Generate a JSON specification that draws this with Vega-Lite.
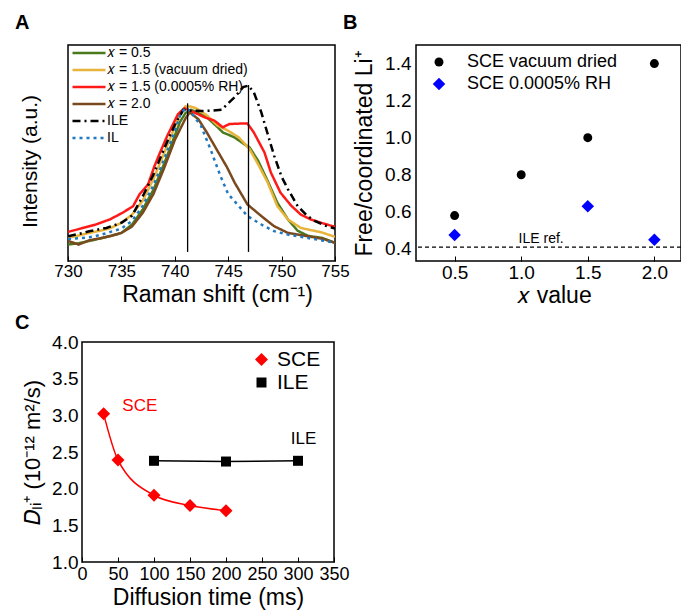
{
  "$schema": "https://vega.github.io/schema/vega-lite/v6.json",
  "padding": {"left": 14, "top": 12, "right": 0, "bottom": 0},
  "background": "white",
  "config": {
    "font": "Liberation Sans",
    "view": {"stroke": "black", "strokeWidth": 1.5},
    "axis": {"labelColor": "black", "titleColor": "black", "titleFontWeight": "normal", "labelFont": "Liberation Sans", "titleFont": "Liberation Sans", "grid": false, "domain": false, "tickColor": "black", "labelFlush": false, "labelOverlap": false},
    "legend": {"labelColor": "black", "labelFont": "Liberation Sans", "title": null, "padding": 0},
    "title": {"font": "Liberation Sans", "fontWeight": "bold", "fontSize": 20, "anchor": "start", "frame": "group", "color": "black"}
  },
  "datasets": {
    "raman": [
      {"s": "𝑥 = 0.5", "v": 730, "i": 0.076}, {"s": "𝑥 = 0.5", "v": 731, "i": 0.082}, {"s": "𝑥 = 0.5", "v": 732, "i": 0.093}, {"s": "𝑥 = 0.5", "v": 733, "i": 0.104}, {"s": "𝑥 = 0.5", "v": 734, "i": 0.116}, {"s": "𝑥 = 0.5", "v": 735, "i": 0.13}, {"s": "𝑥 = 0.5", "v": 736, "i": 0.169}, {"s": "𝑥 = 0.5", "v": 737, "i": 0.239}, {"s": "𝑥 = 0.5", "v": 738, "i": 0.33}, {"s": "𝑥 = 0.5", "v": 739, "i": 0.45}, {"s": "𝑥 = 0.5", "v": 740, "i": 0.58}, {"s": "𝑥 = 0.5", "v": 740.5, "i": 0.645}, {"s": "𝑥 = 0.5", "v": 741, "i": 0.685}, {"s": "𝑥 = 0.5", "v": 741.5, "i": 0.7}, {"s": "𝑥 = 0.5", "v": 742, "i": 0.69}, {"s": "𝑥 = 0.5", "v": 743, "i": 0.665}, {"s": "𝑥 = 0.5", "v": 744, "i": 0.62}, {"s": "𝑥 = 0.5", "v": 744.5, "i": 0.595}, {"s": "𝑥 = 0.5", "v": 745, "i": 0.585}, {"s": "𝑥 = 0.5", "v": 745.6, "i": 0.572}, {"s": "𝑥 = 0.5", "v": 746.5, "i": 0.541}, {"s": "𝑥 = 0.5", "v": 747, "i": 0.526}, {"s": "𝑥 = 0.5", "v": 747.8, "i": 0.464}, {"s": "𝑥 = 0.5", "v": 748.7, "i": 0.37}, {"s": "𝑥 = 0.5", "v": 749.6, "i": 0.27}, {"s": "𝑥 = 0.5", "v": 750.6, "i": 0.192}, {"s": "𝑥 = 0.5", "v": 751.5, "i": 0.14}, {"s": "𝑥 = 0.5", "v": 752.5, "i": 0.116}, {"s": "𝑥 = 0.5", "v": 753.8, "i": 0.107}, {"s": "𝑥 = 0.5", "v": 755, "i": 0.084},
      {"s": "𝑥 = 1.5 (vacuum dried)", "v": 730, "i": 0.107}, {"s": "𝑥 = 1.5 (vacuum dried)", "v": 731, "i": 0.118}, {"s": "𝑥 = 1.5 (vacuum dried)", "v": 732, "i": 0.13}, {"s": "𝑥 = 1.5 (vacuum dried)", "v": 733, "i": 0.14}, {"s": "𝑥 = 1.5 (vacuum dried)", "v": 734, "i": 0.153}, {"s": "𝑥 = 1.5 (vacuum dried)", "v": 735, "i": 0.177}, {"s": "𝑥 = 1.5 (vacuum dried)", "v": 736, "i": 0.215}, {"s": "𝑥 = 1.5 (vacuum dried)", "v": 737, "i": 0.28}, {"s": "𝑥 = 1.5 (vacuum dried)", "v": 738, "i": 0.38}, {"s": "𝑥 = 1.5 (vacuum dried)", "v": 739, "i": 0.5}, {"s": "𝑥 = 1.5 (vacuum dried)", "v": 740, "i": 0.62}, {"s": "𝑥 = 1.5 (vacuum dried)", "v": 740.5, "i": 0.685}, {"s": "𝑥 = 1.5 (vacuum dried)", "v": 741, "i": 0.716}, {"s": "𝑥 = 1.5 (vacuum dried)", "v": 741.5, "i": 0.715}, {"s": "𝑥 = 1.5 (vacuum dried)", "v": 742, "i": 0.707}, {"s": "𝑥 = 1.5 (vacuum dried)", "v": 743, "i": 0.674}, {"s": "𝑥 = 1.5 (vacuum dried)", "v": 744, "i": 0.628}, {"s": "𝑥 = 1.5 (vacuum dried)", "v": 745, "i": 0.603}, {"s": "𝑥 = 1.5 (vacuum dried)", "v": 746, "i": 0.572}, {"s": "𝑥 = 1.5 (vacuum dried)", "v": 747, "i": 0.518}, {"s": "𝑥 = 1.5 (vacuum dried)", "v": 747.8, "i": 0.448}, {"s": "𝑥 = 1.5 (vacuum dried)", "v": 748.7, "i": 0.363}, {"s": "𝑥 = 1.5 (vacuum dried)", "v": 749.6, "i": 0.254}, {"s": "𝑥 = 1.5 (vacuum dried)", "v": 750.6, "i": 0.192}, {"s": "𝑥 = 1.5 (vacuum dried)", "v": 751.8, "i": 0.153}, {"s": "𝑥 = 1.5 (vacuum dried)", "v": 753.7, "i": 0.133}, {"s": "𝑥 = 1.5 (vacuum dried)", "v": 755, "i": 0.112},
      {"s": "𝑥 = 1.5 (0.0005% RH)", "v": 730, "i": 0.135}, {"s": "𝑥 = 1.5 (0.0005% RH)", "v": 731.1, "i": 0.149}, {"s": "𝑥 = 1.5 (0.0005% RH)", "v": 732.6, "i": 0.169}, {"s": "𝑥 = 1.5 (0.0005% RH)", "v": 733.9, "i": 0.192}, {"s": "𝑥 = 1.5 (0.0005% RH)", "v": 735.1, "i": 0.223}, {"s": "𝑥 = 1.5 (0.0005% RH)", "v": 736.1, "i": 0.254}, {"s": "𝑥 = 1.5 (0.0005% RH)", "v": 736.7, "i": 0.309}, {"s": "𝑥 = 1.5 (0.0005% RH)", "v": 737.5, "i": 0.355}, {"s": "𝑥 = 1.5 (0.0005% RH)", "v": 738.1, "i": 0.44}, {"s": "𝑥 = 1.5 (0.0005% RH)", "v": 738.6, "i": 0.5}, {"s": "𝑥 = 1.5 (0.0005% RH)", "v": 739.3, "i": 0.58}, {"s": "𝑥 = 1.5 (0.0005% RH)", "v": 740.3, "i": 0.68}, {"s": "𝑥 = 1.5 (0.0005% RH)", "v": 740.9, "i": 0.707}, {"s": "𝑥 = 1.5 (0.0005% RH)", "v": 741.8, "i": 0.688}, {"s": "𝑥 = 1.5 (0.0005% RH)", "v": 742.8, "i": 0.665}, {"s": "𝑥 = 1.5 (0.0005% RH)", "v": 743.7, "i": 0.65}, {"s": "𝑥 = 1.5 (0.0005% RH)", "v": 744.5, "i": 0.619}, {"s": "𝑥 = 1.5 (0.0005% RH)", "v": 745.1, "i": 0.634}, {"s": "𝑥 = 1.5 (0.0005% RH)", "v": 746, "i": 0.636}, {"s": "𝑥 = 1.5 (0.0005% RH)", "v": 746.8, "i": 0.637}, {"s": "𝑥 = 1.5 (0.0005% RH)", "v": 747.4, "i": 0.595}, {"s": "𝑥 = 1.5 (0.0005% RH)", "v": 748.4, "i": 0.502}, {"s": "𝑥 = 1.5 (0.0005% RH)", "v": 749, "i": 0.409}, {"s": "𝑥 = 1.5 (0.0005% RH)", "v": 749.9, "i": 0.316}, {"s": "𝑥 = 1.5 (0.0005% RH)", "v": 750.9, "i": 0.256}, {"s": "𝑥 = 1.5 (0.0005% RH)", "v": 751.8, "i": 0.215}, {"s": "𝑥 = 1.5 (0.0005% RH)", "v": 752.75, "i": 0.192}, {"s": "𝑥 = 1.5 (0.0005% RH)", "v": 753.7, "i": 0.177}, {"s": "𝑥 = 1.5 (0.0005% RH)", "v": 755, "i": 0.158},
      {"s": "𝑥 = 2.0", "v": 730, "i": 0.093}, {"s": "𝑥 = 2.0", "v": 730.5, "i": 0.085}, {"s": "𝑥 = 2.0", "v": 731, "i": 0.076}, {"s": "𝑥 = 2.0", "v": 732, "i": 0.096}, {"s": "𝑥 = 2.0", "v": 733, "i": 0.105}, {"s": "𝑥 = 2.0", "v": 734, "i": 0.116}, {"s": "𝑥 = 2.0", "v": 735, "i": 0.13}, {"s": "𝑥 = 2.0", "v": 736, "i": 0.16}, {"s": "𝑥 = 2.0", "v": 737, "i": 0.223}, {"s": "𝑥 = 2.0", "v": 738, "i": 0.31}, {"s": "𝑥 = 2.0", "v": 739, "i": 0.43}, {"s": "𝑥 = 2.0", "v": 740, "i": 0.56}, {"s": "𝑥 = 2.0", "v": 741, "i": 0.66}, {"s": "𝑥 = 2.0", "v": 741.4, "i": 0.688}, {"s": "𝑥 = 2.0", "v": 742.2, "i": 0.657}, {"s": "𝑥 = 2.0", "v": 743, "i": 0.595}, {"s": "𝑥 = 2.0", "v": 743.9, "i": 0.518}, {"s": "𝑥 = 2.0", "v": 744.9, "i": 0.433}, {"s": "𝑥 = 2.0", "v": 745.6, "i": 0.363}, {"s": "𝑥 = 2.0", "v": 746.8, "i": 0.262}, {"s": "𝑥 = 2.0", "v": 748.1, "i": 0.208}, {"s": "𝑥 = 2.0", "v": 749.3, "i": 0.161}, {"s": "𝑥 = 2.0", "v": 750.6, "i": 0.13}, {"s": "𝑥 = 2.0", "v": 752.4, "i": 0.115}, {"s": "𝑥 = 2.0", "v": 753.9, "i": 0.102}, {"s": "𝑥 = 2.0", "v": 755, "i": 0.084},
      {"s": "ILE", "v": 730, "i": 0.115}, {"s": "ILE", "v": 731, "i": 0.125}, {"s": "ILE", "v": 732, "i": 0.138}, {"s": "ILE", "v": 733.6, "i": 0.153}, {"s": "ILE", "v": 735, "i": 0.177}, {"s": "ILE", "v": 736, "i": 0.21}, {"s": "ILE", "v": 737, "i": 0.3}, {"s": "ILE", "v": 738, "i": 0.4}, {"s": "ILE", "v": 739, "i": 0.52}, {"s": "ILE", "v": 740, "i": 0.63}, {"s": "ILE", "v": 740.8, "i": 0.7}, {"s": "ILE", "v": 741.5, "i": 0.696}, {"s": "ILE", "v": 742.5, "i": 0.694}, {"s": "ILE", "v": 743.5, "i": 0.696}, {"s": "ILE", "v": 744.4, "i": 0.7}, {"s": "ILE", "v": 745, "i": 0.73}, {"s": "ILE", "v": 745.6, "i": 0.758}, {"s": "ILE", "v": 746.4, "i": 0.805}, {"s": "ILE", "v": 746.9, "i": 0.812}, {"s": "ILE", "v": 747.4, "i": 0.781}, {"s": "ILE", "v": 748.1, "i": 0.688}, {"s": "ILE", "v": 748.7, "i": 0.587}, {"s": "ILE", "v": 749.3, "i": 0.488}, {"s": "ILE", "v": 750, "i": 0.39}, {"s": "ILE", "v": 750.6, "i": 0.332}, {"s": "ILE", "v": 751.5, "i": 0.254}, {"s": "ILE", "v": 752.4, "i": 0.209}, {"s": "ILE", "v": 753.1, "i": 0.186}, {"s": "ILE", "v": 754, "i": 0.165}, {"s": "ILE", "v": 755, "i": 0.15},
      {"s": "IL", "v": 730, "i": 0.102}, {"s": "IL", "v": 731, "i": 0.105}, {"s": "IL", "v": 732, "i": 0.11}, {"s": "IL", "v": 733, "i": 0.12}, {"s": "IL", "v": 734, "i": 0.135}, {"s": "IL", "v": 735, "i": 0.15}, {"s": "IL", "v": 736, "i": 0.186}, {"s": "IL", "v": 737, "i": 0.256}, {"s": "IL", "v": 738, "i": 0.35}, {"s": "IL", "v": 739, "i": 0.47}, {"s": "IL", "v": 740, "i": 0.6}, {"s": "IL", "v": 740.5, "i": 0.675}, {"s": "IL", "v": 741, "i": 0.71}, {"s": "IL", "v": 741.5, "i": 0.69}, {"s": "IL", "v": 742.45, "i": 0.626}, {"s": "IL", "v": 743.4, "i": 0.51}, {"s": "IL", "v": 744.3, "i": 0.39}, {"s": "IL", "v": 745, "i": 0.31}, {"s": "IL", "v": 746, "i": 0.254}, {"s": "IL", "v": 746.8, "i": 0.208}, {"s": "IL", "v": 748.1, "i": 0.169}, {"s": "IL", "v": 749.3, "i": 0.138}, {"s": "IL", "v": 750.6, "i": 0.122}, {"s": "IL", "v": 752.4, "i": 0.107}, {"s": "IL", "v": 753.9, "i": 0.094}, {"s": "IL", "v": 755, "i": 0.084}
    ],
    "ramanLines": [
      {"v": 741.2, "y1": 0.042, "y2": 0.73},
      {"v": 746.9, "y1": 0.042, "y2": 0.815}
    ],
    "ratio": [
      {"x": 0.5, "r": 0.58, "s": "SCE vacuum dried"},
      {"x": 1.0, "r": 0.80, "s": "SCE vacuum dried"},
      {"x": 1.5, "r": 1.0, "s": "SCE vacuum dried"},
      {"x": 2.0, "r": 1.40, "s": "SCE vacuum dried"},
      {"x": 0.5, "r": 0.475, "s": "SCE 0.0005% RH"},
      {"x": 1.5, "r": 0.63, "s": "SCE 0.0005% RH"},
      {"x": 2.0, "r": 0.45, "s": "SCE 0.0005% RH"}
    ],
    "ileRef": [{"r": 0.41, "x": 1.15, "ty": 0.455, "t": "ILE ref."}],
    "diff": [
      {"t": 30, "d": 3.02, "s": "SCE"},
      {"t": 50, "d": 2.39, "s": "SCE"},
      {"t": 100, "d": 1.91, "s": "SCE"},
      {"t": 150, "d": 1.77, "s": "SCE"},
      {"t": 200, "d": 1.70, "s": "SCE"},
      {"t": 100, "d": 2.38, "s": "ILE"},
      {"t": 200, "d": 2.37, "s": "ILE"},
      {"t": 300, "d": 2.38, "s": "ILE"}
    ],
    "diffLabels": [
      {"s": "SCE", "t": 56, "d": 3.13},
      {"s": "ILE", "t": 290, "d": 2.68}
    ]
  },
  "vconcat": [
    {
      "hconcat": [
        {
          "width": 267, "height": 216,
          "title": {"text": "A", "dx": -53, "offset": 12},
          "layer": [
            {
              "data": {"name": "raman"},
              "mark": {"type": "line", "strokeWidth": 2.5, "clip": true},
              "encoding": {
                "x": {"field": "v", "type": "quantitative", "scale": {"domain": [730, 755], "nice": false, "zero": false},
                      "axis": {"values": [730, 735, 740, 745, 750, 755], "title": "Raman shift (cm⁻¹)", "titleFontSize": 23, "titleX": 149, "labelFontSize": 17, "tickSize": -5, "labelPadding": 7, "titlePadding": 4, "labelOverlap": false}},
                "y": {"field": "i", "type": "quantitative", "scale": {"domain": [0, 1], "nice": false},
                      "axis": {"title": "Intensity (a.u.)", "labels": false, "ticks": false, "titleFontSize": 21, "titlePadding": 28, "titleY": 116}},
                "color": {"field": "s", "type": "nominal", "sort": null,
                          "scale": {"domain": ["𝑥 = 0.5", "𝑥 = 1.5 (vacuum dried)", "𝑥 = 1.5 (0.0005% RH)", "𝑥 = 2.0", "ILE", "IL"],
                                    "range": ["#4a7a1c", "#e8b43c", "#ff1a1a", "#7a4a1e", "#000000", "#1f78c0"]},
                          "legend": {"orient": "none", "legendX": 3, "legendY": 1, "symbolType": "M-1,0H5", "symbolSize": 121, "symbolStrokeWidth": 2.5, "labelFontSize": 14, "labelOffset": 22, "rowPadding": 3, "labelLimit": 300}},
                "strokeDash": {"field": "s", "type": "nominal", "sort": null,
                               "scale": {"domain": ["𝑥 = 0.5", "𝑥 = 1.5 (vacuum dried)", "𝑥 = 1.5 (0.0005% RH)", "𝑥 = 2.0", "ILE", "IL"],
                                         "range": [[1, 0], [1, 0], [1, 0], [1, 0], [8, 4, 2, 4], [3, 4]]}}
              }
            },
            {
              "data": {"name": "ramanLines"},
              "mark": {"type": "rule", "color": "black", "strokeWidth": 1.3},
              "encoding": {
                "x": {"field": "v", "type": "quantitative"},
                "y": {"field": "y1", "type": "quantitative"},
                "y2": {"field": "y2"}
              }
            }
          ]
        },
        {
          "width": 265, "height": 216,
          "title": {"text": "B", "dx": -73, "offset": 12},
          "encoding": {
            "x": {"field": "x", "type": "quantitative", "scale": {"domain": [0.21, 2.2], "nice": false, "zero": false},
                  "axis": {"values": [0.5, 1.0, 1.5, 2.0], "format": ".1f", "title": "𝑥 value", "titleFontSize": 23, "titleX": 138, "labelFontSize": 19, "tickSize": -5, "labelPadding": 7, "titlePadding": 2, "labelOverlap": false}},
            "y": {"field": "r", "type": "quantitative", "scale": {"domain": [0.335, 1.5], "nice": false, "zero": false},
                  "axis": {"values": [0.4, 0.6, 0.8, 1.0, 1.2, 1.4], "format": ".1f", "title": "Free/coordinated Li⁺", "titleFontSize": 23, "labelFontSize": 19, "ticks": false, "labelPadding": 5, "titlePadding": 8, "labelOverlap": false}}
          },
          "layer": [
            {
              "data": {"name": "ileRef"},
              "mark": {"type": "rule", "strokeDash": [4, 3], "color": "black", "strokeWidth": 1.3},
              "encoding": {"x": null}
            },
            {
              "data": {"name": "ileRef"},
              "mark": {"type": "text", "fontSize": 14, "color": "black"},
              "encoding": {
                "y": {"field": "ty", "type": "quantitative"},
                "text": {"field": "t"}
              }
            },
            {
              "data": {"name": "ratio"},
              "mark": {"type": "point", "filled": true, "opacity": 1, "size": 80},
              "encoding": {
                "color": {"field": "s", "type": "nominal", "sort": null,
                          "scale": {"domain": ["SCE vacuum dried", "SCE 0.0005% RH"], "range": ["#000000", "#0000ff"]},
                          "legend": {"orient": "none", "legendX": 30, "legendY": 8, "labelFontSize": 18, "labelOffset": 19, "symbolOffset": -16, "rowPadding": 4, "symbolSize": 80, "labelLimit": 300}},
                "shape": {"field": "s", "type": "nominal", "sort": null,
                          "scale": {"domain": ["SCE vacuum dried", "SCE 0.0005% RH"], "range": ["circle", "M0,-1.4L1.4,0L0,1.4L-1.4,0Z"]}}
              }
            }
          ]
        }
      ],
      "spacing": 81,
      "bounds": "flush",
      "resolve": {
        "scale": {"x": "independent", "y": "independent", "color": "independent", "shape": "independent", "strokeDash": "independent"},
        "legend": {"color": "independent", "shape": "independent", "strokeDash": "independent"}
      }
    },
    {
      "hconcat": [
        {
          "width": 1, "height": 1,
          "view": {"stroke": null},
          "data": {"values": []},
          "mark": {"type": "point"}
        },
        {
          "width": 252, "height": 220,
          "title": {"text": "C", "dx": -67, "offset": 0},
          "data": {"name": "diff"},
          "encoding": {
            "x": {"field": "t", "type": "quantitative", "scale": {"domain": [0, 350], "nice": false},
                  "axis": {"values": [0, 50, 100, 150, 200, 250, 300, 350], "title": "Diffusion time (ms)", "titleFontSize": 23, "labelFontSize": 18, "tickSize": -5, "labelPadding": 8, "titlePadding": 3, "labelOverlap": false}},
            "y": {"field": "d", "type": "quantitative", "scale": {"domain": [1, 4], "nice": false, "zero": false},
                  "axis": {"values": [1.0, 1.5, 2.0, 2.5, 3.0, 3.5, 4.0], "format": ".1f", "title": "𝐷ₗᵢ⁺ (10⁻¹² m²/s)", "titleFontSize": 22, "labelFontSize": 19, "ticks": false, "labelPadding": 4, "titlePadding": 7, "labelOverlap": false}}
          },
          "layer": [
            {
              "transform": [{"filter": "datum.s === 'SCE'"}],
              "mark": {"type": "line", "color": "#ff0000", "strokeWidth": 1.5, "interpolate": "monotone"}
            },
            {
              "transform": [{"filter": "datum.s === 'ILE'"}],
              "mark": {"type": "line", "color": "#000000", "strokeWidth": 1.5}
            },
            {
              "mark": {"type": "point", "filled": true, "opacity": 1, "size": 100},
              "encoding": {
                "color": {"field": "s", "type": "nominal", "sort": null,
                          "scale": {"domain": ["SCE", "ILE"], "range": ["#ff0000", "#000000"]},
                          "legend": {"orient": "none", "legendX": 183, "legendY": 7, "labelFontSize": 21, "labelOffset": 5, "rowPadding": 1, "symbolSize": 100}},
                "shape": {"field": "s", "type": "nominal", "sort": null,
                          "scale": {"domain": ["SCE", "ILE"], "range": ["M0,-1.3L1.3,0L0,1.3L-1.3,0Z", "square"]}}
              }
            },
            {
              "data": {"name": "diffLabels"},
              "transform": [{"filter": "datum.s === 'SCE'"}],
              "mark": {"type": "text", "fontSize": 17, "color": "#ff0000", "align": "left"},
              "encoding": {"text": {"field": "s"}}
            },
            {
              "data": {"name": "diffLabels"},
              "transform": [{"filter": "datum.s === 'ILE'"}],
              "mark": {"type": "text", "fontSize": 17, "color": "#000000", "align": "left"},
              "encoding": {"text": {"field": "s"}}
            }
          ]
        }
      ],
      "spacing": 13,
      "bounds": "flush"
    }
  ],
  "spacing": 4,
  "resolve": {
    "scale": {"x": "independent", "y": "independent", "color": "independent", "shape": "independent", "strokeDash": "independent"},
    "legend": {"color": "independent", "shape": "independent", "strokeDash": "independent"}
  }
}
